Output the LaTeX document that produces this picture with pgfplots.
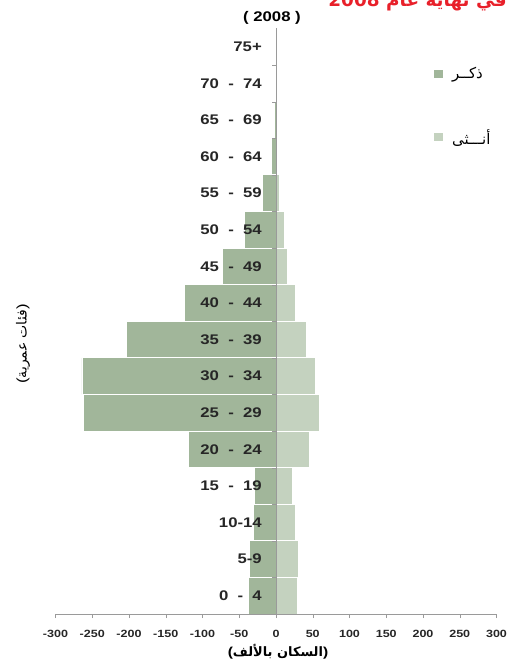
\documentclass[border=0pt]{standalone}
\usepackage{fontspec}
\setmainfont{Liberation Sans}[FakeStretch=1.2]
\newfontfamily\arabicfont[Script=Arabic]{DejaVu Sans}
\usepackage{pgfplots}
\usepackage{pgfplotstable}
\pgfplotsset{compat=1.18}
\TeXXeTstate=1
\definecolor{malec}{HTML}{A1B69A}
\definecolor{femc}{HTML}{C4D2BF}
\definecolor{axc}{HTML}{9A9A9A}
\definecolor{titred}{HTML}{E8202A}
\pgfplotstableread{
idx male female
0 -37.5 29
1 -36 30.7
2 -31 27
3 -29.5 22
4 -119 45
5 -262 59.5
6 -264 54
7 -204 41
8 -124 27
9 -73 16
10 -43 12
11 -18 4.5
12 -6 2
13 -1.5 1
14 -0.8 0.6
15 -0.6 0.4
}\datatable
\pgfplotsset{sqlegend/.style={legend image code/.code={\fill[##1,draw=none] (0bp,-4bp) rectangle (9bp,4bp);}}}
\begin{document}
\begin{tikzpicture}
\useasboundingbox (-55.5bp,-50bp) rectangle (453.5bp,614bp);
\begin{axis}[
  at={(0,0)}, anchor=south west,
  scale only axis, width=441bp, height=585.5bp,
  xmin=-300, xmax=300, ymin=-0.5, ymax=15.5,
  axis x line=bottom, axis y line=middle,
  axis line style={draw=axc, -},
  axis on top,
  tick align=outside,
  xtick={-300,-250,...,300},
  xticklabels={-300,-250,-200,-150,-100,-50,0,50,100,150,200,250,300},
  ytick={0,...,15},
  yticklabels={{0\ \ -\ \ 4},{5-9},{10-14},{15\ \ -\ \ 19},{20\ \ -\ \ 24},{25\ \ -\ \ 29},{30\ \ -\ \ 34},{35\ \ -\ \ 39},{40\ \ -\ \ 44},{45\ \ -\ \ 49},{50\ \ -\ \ 54},{55\ \ -\ \ 59},{60\ \ -\ \ 64},{65\ \ -\ \ 69},{70\ \ -\ \ 74},{75+}},
  minor ytick={0.5,1.5,...,14.5},
  major tick length=4bp, minor tick length=4bp,
  major x tick style={draw=axc},
  major y tick style={draw=none},
  minor y tick style={draw=axc},
  xticklabel style={font=\fontsize{10.5}{10.5}\selectfont\bfseries, text=black!85, yshift=-9bp},
  yticklabel style={font=\fontsize{14}{14}\selectfont\bfseries, text=black!85, inner sep=0pt, xshift=-10bp},
  legend style={at={(0.858,0.934)}, anchor=north west, draw=none, fill=none, inner sep=0pt, row sep=49bp, column sep=9bp, nodes={inner sep=0pt}, font=\arabicfont\fontsize{15}{15}\selectfont},
  legend cell align=left,
]
\addplot[xbar, bar width=1, bar shift=0pt, fill=malec, draw=white, line width=0.8bp, sqlegend] table[x=male,y=idx]{\datatable};
\addlegendentry{\beginR ذكــر\endR}
\addplot[xbar, bar width=1, bar shift=0pt, fill=femc, draw=white, line width=0.8bp, sqlegend] table[x=female,y=idx]{\datatable};
\addlegendentry{\beginR أنـــثى\endR}
\end{axis}
\node[anchor=center] at (216.5bp,596bp) {\fontsize{14}{14}\selectfont\bfseries (\ 2008\ )};
\node[anchor=base east, inner sep=0pt, text=titred] at (451.5bp,607.5bp) {\arabicfont\bfseries\fontsize{18.5}{18.5}\selectfont\beginR في نهاية عام \beginL 2008\endL\endR};
\node[rotate=90, anchor=center] at (-32.5bp,270bp) {\fontsize{14}{14}\selectfont{\normalfont(}{\arabicfont\beginR فئات عمرية\endR}{\normalfont)}};
\node[anchor=center] at (222.5bp,-38bp) {\fontsize{13}{13}\selectfont\bfseries(\arabicfont\beginR السكان بالألف\endR\normalfont\bfseries)};
\end{tikzpicture}
\end{document}
